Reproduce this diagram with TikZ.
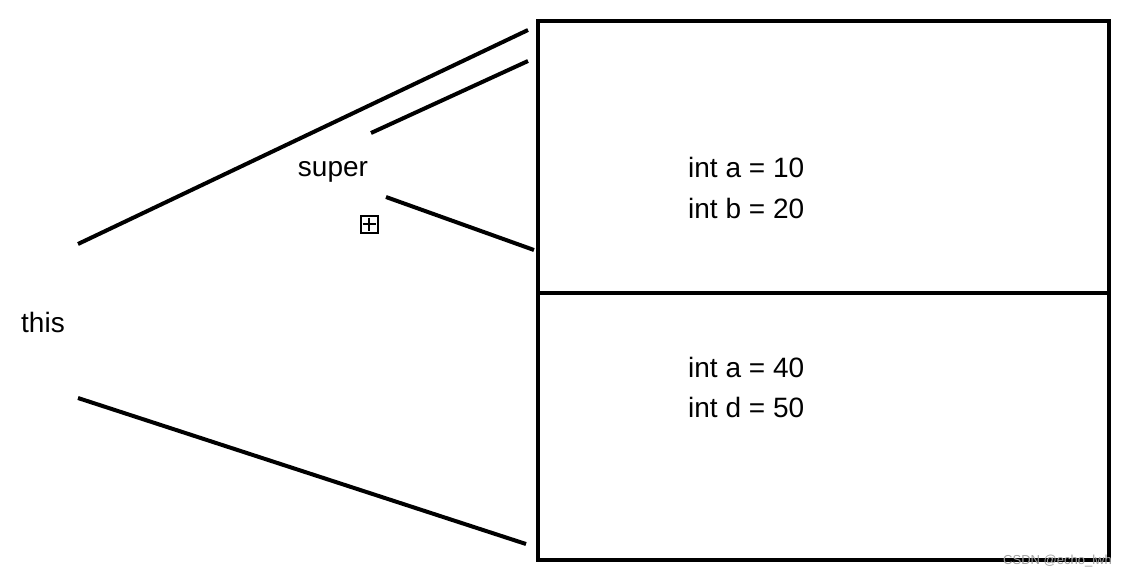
\documentclass[tikz,border=0pt]{standalone}
\usepackage{fontspec}
\setmainfont{Liberation Sans}
\usetikzlibrary{positioning}

\tikzset{
  thickline/.style={line width=4pt},
  txt/.style={font=\fontsize{28}{34}\selectfont, inner sep=0pt},
  field/.style={txt, anchor=west}
}

\begin{document}
\begin{tikzpicture}[x=1pt, y=-1pt]
            \useasboundingbox (0,0) rectangle (1126,576);

            \node[draw, line width=4pt, outer sep=0pt, minimum width=571pt, minimum height=539pt, anchor=north west] (obj) at (538,21) {};
            \draw[thickline] (obj.west |- 0,293) coordinate (divl) -- (obj.east |- 0,293) coordinate (divr);

            \node[txt] (this) at (43,322) {this};
            \node[txt] (super) at (333,172) {super};

            \node[field] (fa) at (688,167) {int a = 10};
            \node[field] (fb) at (688,208) {int b = 20};
            \node[field] (fc) at (688,367) {int a = 40};
            \node[field] (fd) at (688,407) {int d = 50};

            % small box with plus
            \node[draw, line width=2pt, minimum size=17pt, inner sep=0pt] (plus) at (369,224) {};
            \draw[line width=2pt] ([yshift=-3pt]plus.north) -- ([yshift=3pt]plus.south);
            \draw[line width=2pt] ([xshift=3pt]plus.west) -- ([xshift=-3pt]plus.east);

            \coordinate (t1) at (78,244);
            \coordinate (t2) at (78,398);
            \coordinate (b1) at (528,30);
            \coordinate (b2) at (526,544);
            \coordinate (s1) at (371,133);
            \coordinate (s2) at (528,61);
            \coordinate (s3) at (386,197);
            \coordinate (s4) at (534,250);

            \draw[thickline] (t1) -- (b1);
            \draw[thickline] (t2) -- (b2);
            \draw[thickline] (s1) -- (s2);
            \draw[thickline] (s3) -- (s4);

            \node[font=\fontsize{13}{15}\selectfont, text=gray!75, anchor=east, inner sep=0pt] (mark) at (1112,561) {CSDN @echo\_lwh};
\end{tikzpicture}
\end{document}
